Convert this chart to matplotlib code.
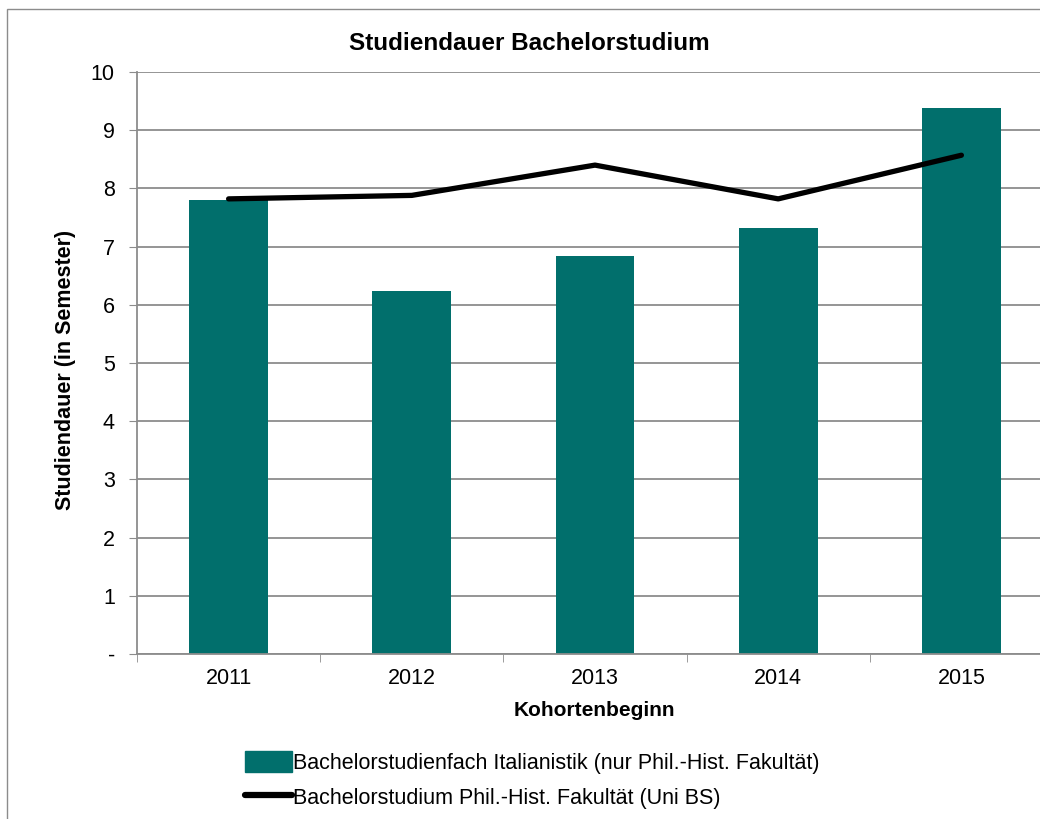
import matplotlib
matplotlib.use("Agg")
import matplotlib.pyplot as plt
from matplotlib.patches import Rectangle, Patch
from matplotlib.lines import Line2D

plt.rcParams['font.family'] = ['Liberation Sans', 'DejaVu Sans']

years = ["2011", "2012", "2013", "2014", "2015"]
italianistik = [7.80, 6.24, 6.84, 7.32, 9.38]
fakultaet = [7.82, 7.88, 8.40, 7.82, 8.57]
y_ticks = [0, 1, 2, 3, 4, 5, 6, 7, 8, 9, 10]
y_labels = ["-", "1", "2", "3", "4", "5", "6", "7", "8", "9", "10"]

title = "Studiendauer Bachelorstudium"
xlabel = "Kohortenbeginn"
ylabel = "Studiendauer (in Semester)"
bar_label = "Bachelorstudienfach Italianistik (nur Phil.-Hist. Fakultät)"
line_label = "Bachelorstudium Phil.-Hist. Fakultät (Uni BS)"

teal = "#016F6C"
grid_c = "#8C8C8C"

W, H = 1040, 819
fig = plt.figure(figsize=(W / 100, H / 100), dpi=100)

# outer chart border (cropped on right/bottom)
top_b = 1 - 9 / H
fig.patches.append(Rectangle((7 / W, -0.2), 1.5, top_b + 0.2,
                             transform=fig.transFigure, fill=False,
                             edgecolor=grid_c, linewidth=1.0))

left, right = 137 / W, 1053 / W
bottom, top = 1 - 654 / H, 1 - 72 / H
ax = fig.add_axes([left, bottom, right - left, top - bottom])

x = list(range(len(years)))
ax.bar(x, italianistik, width=0.43, color=teal, zorder=3)
ax.plot(x, fakultaet, color="black", linewidth=3.8, solid_capstyle="round",
        solid_joinstyle="round", zorder=4)

ax.set_xlim(-0.5, len(years) - 0.5)
ax.set_ylim(0, 10)
ax.set_yticks(y_ticks)
ax.set_yticklabels(y_labels, fontsize=15.5)
ax.set_xticks(x)
ax.set_xticklabels(years, fontsize=15.5)
ax.set_xticks([i - 0.5 for i in range(len(years) + 1)], minor=True)
ax.tick_params(axis="x", which="major", length=0, pad=10)
ax.tick_params(axis="x", which="minor", length=6, color=grid_c, direction="out")
ax.tick_params(axis="y", which="major", length=6, color=grid_c, direction="out", pad=10)

ax.grid(axis="y", color=grid_c, linewidth=1.3, zorder=0)
ax.set_axisbelow(True)
for s in ["top", "right"]:
    ax.spines[s].set_visible(False)
for s in ["left", "bottom"]:
    ax.spines[s].set_color(grid_c)
    ax.spines[s].set_linewidth(1.3)
ax.spines["bottom"].set_zorder(5)

fig.text(529 / W, 1 - 43 / H, title, fontsize=17.5, fontweight="bold",
         ha="center", va="center")
fig.text(594 / W, 1 - 711 / H, xlabel, fontsize=15, fontweight="bold",
         ha="center", va="center")
fig.text(66 / W, 1 - 370 / H, ylabel, fontsize=15.5, fontweight="bold",
         ha="center", va="center", rotation=90)

handles = [Patch(facecolor=teal, edgecolor=teal),
           Line2D([0], [0], color="black", linewidth=4.5, solid_capstyle="round")]
fig.legend(handles, [bar_label, line_label], loc="center left",
           bbox_to_anchor=(245 / W, 1 - 780 / H), frameon=False, fontsize=15.5,
           handlelength=2.2, handletextpad=0.05, labelspacing=0.6,
           handleheight=1.1, borderpad=0, borderaxespad=0)

fig.savefig("out.png", dpi=100)
